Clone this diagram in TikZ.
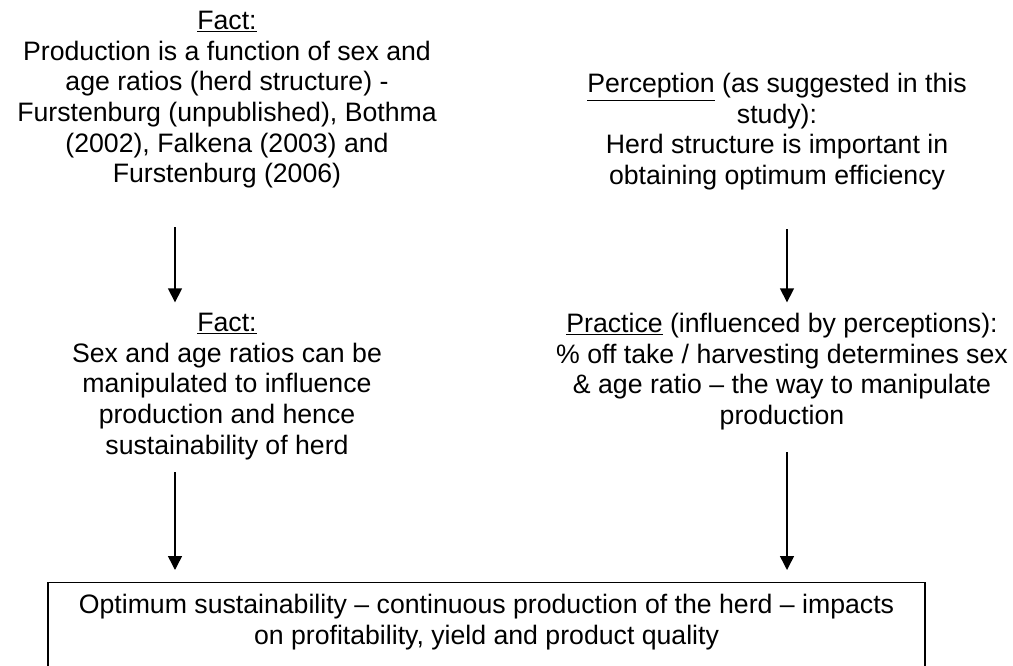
\documentclass[tikz,border=0pt]{standalone}
\usepackage{fontspec}
\setmainfont{Liberation Sans}
\usepackage{tikz}
\usetikzlibrary{arrows.meta}
\tikzset{
    statement/.style={align=center, inner sep=0pt, anchor=north,
        font=\fontsize{20}{23}\selectfont},
    flow/.style={draw=black, line width=1.1pt,
        -{Triangle[width=10.5pt,length=10.5pt]}},
    outcome/.style={draw=black, line width=1pt, align=center, anchor=north,
        minimum width=657.75pt, inner xsep=0pt, inner ysep=9pt,
        font=\fontsize{20}{23}\selectfont},
}

\begin{document}
\begin{tikzpicture}[x=0.75pt, y=-0.75pt]
	\useasboundingbox (0,0) rectangle (1013,666);
	\clip (0,0) rectangle (1013,666);
	\node[statement] (fact1) at (227,11) {\underline{Fact:}\\
		Production is a function of sex and\\
		age ratios (herd structure) -\\
		Furstenburg (unpublished), Bothma\\
		(2002), Falkena (2003) and\\
		Furstenburg (2006)};
	\node[statement] (percep) at (777,73) {\underline{Perception} (as suggested in this\\
		study):\\
		Herd structure is important in\\
		obtaining optimum efficiency};
	\node[statement] (fact2) at (227,313) {\underline{Fact:}\\
		Sex and age ratios can be\\
		manipulated to influence\\
		production and hence\\
		sustainability of herd};
	\node[statement] (practice) at (782,313) {\underline{Practice} (influenced by perceptions):\\
		\% off take / harvesting determines sex\\
		\& age ratio – the way to manipulate\\
		production};
	\node[outcome] (optimum) at (486.5,582) {Optimum sustainability – continuous production of the herd – impacts\\
		on profitability, yield and product quality\rule[-26pt]{0pt}{26pt}};
	% arrows
	\coordinate (xl) at (175,0);
	\coordinate (xr) at (787,0);
	\draw[flow, shorten <=29pt, shorten >=8pt] (fact1.south -| xl) -- (fact2.north -| xl);
	\draw[flow, shorten <=29pt, shorten >=8pt] (percep.south -| xr) -- (practice.north -| xr);
	\draw[flow, shorten <=9pt, shorten >=9pt] (fact2.south -| xl) -- (optimum.north -| xl);
	\draw[flow, shorten <=16.5pt, shorten >=9pt] (practice.south -| xr) -- (optimum.north -| xr);
\end{tikzpicture}
\end{document}
